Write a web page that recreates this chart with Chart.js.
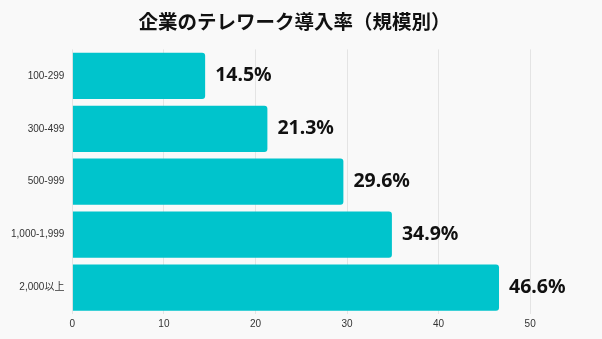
<!DOCTYPE html>
<html>
<head>
<meta charset="utf-8">
<script src="https://cdn.jsdelivr.net/npm/chart.js@4"></script>
<style>
  html, body { margin: 0; padding: 0; background: #f9f9f9; }
  #wrap { width: 602px; height: 339px; position: relative; }
</style>
</head>
<body>
<div id="wrap"><canvas id="c"></canvas></div>
<script>
// Company size bands (employees) and telework adoption rate (%)
const categories = ['100-299', '300-499', '500-999', '1,000-1,999', '2,000以上'];
const rates = [14.5, 21.3, 29.6, 34.9, 46.6];
const xTicks = [0, 10, 20, 30, 40, 50];

// Draws the percentage value to the right of each bar
const valueLabels = {
  id: 'valueLabels',
  afterDatasetsDraw(chart) {
    const ctx = chart.ctx;
    const meta = chart.getDatasetMeta(0);
    ctx.save();
    ctx.font = 'bold 19.5px "Noto Sans", "Open Sans", sans-serif';
    ctx.fillStyle = '#111';
    ctx.textBaseline = 'middle';
    ctx.textAlign = 'left';
    meta.data.forEach((bar, i) => {
      ctx.fillText(rates[i].toFixed(1) + '%', bar.x + 10, bar.y);
    });
    ctx.restore();
  }
};

new Chart(document.getElementById('c'), {
  type: 'bar',
  data: {
    labels: categories,
    datasets: [{
      data: rates,
      backgroundColor: '#00c4cc',
      borderRadius: 3,
      borderSkipped: 'start',
      barPercentage: 0.96,
      categoryPercentage: 0.91
    }]
  },
  options: {
    indexAxis: 'y',
    responsive: true,
    maintainAspectRatio: false,
    animation: false,
    layout: { padding: { left: 3, right: 16, top: 0, bottom: 5 } },
    plugins: {
      legend: { display: false },
      tooltip: { enabled: false },
      title: {
        display: true,
        text: '企業のテレワーク導入率（規模別）',
        color: '#111',
        font: { family: '"Noto Sans CJK JP", sans-serif', size: 19.5, weight: 'bold', lineHeight: 1.2 },
        padding: { top: 10, bottom: 16 }
      }
    },
    scales: {
      x: {
        min: 0,
        max: 56.1,
        afterBuildTicks(axis) { axis.ticks = xTicks.map(v => ({ value: v })); },
        grid: { color: '#e4e4e4', drawTicks: false },
        border: { display: false },
        ticks: { color: '#333', font: { family: '"Liberation Sans", Arial, sans-serif', size: 10 }, padding: 4 }
      },
      y: {
        grid: { display: false, drawTicks: false },
        border: { display: false },
        ticks: { color: '#333', font: { family: '"Liberation Sans", "Noto Sans CJK JP", sans-serif', size: 10 }, padding: 8 }
      }
    }
  },
  plugins: [valueLabels]
});
</script>
</body>
</html>
